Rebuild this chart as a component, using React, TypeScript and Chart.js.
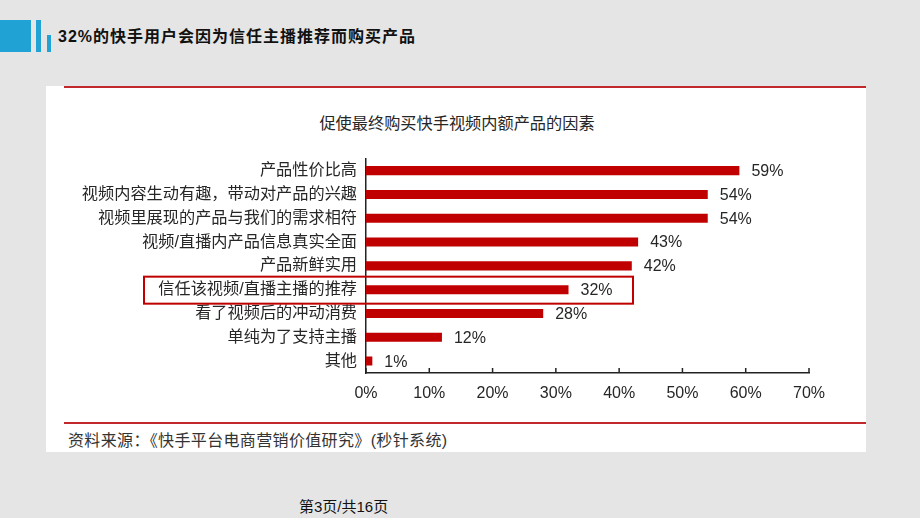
import React, { useEffect, useRef } from 'react';
import { Chart, registerables } from 'chart.js';

Chart.register(...registerables);

const categories = [
  '产品性价比高',
  '视频内容生动有趣，带动对产品的兴趣',
  '视频里展现的产品与我们的需求相符',
  '视频/直播内产品信息真实全面',
  '产品新鲜实用',
  '信任该视频/直播主播的推荐',
  '看了视频后的冲动消费',
  '单纯为了支持主播',
  '其他',
];
const shares = [59, 54, 54, 43, 42, 32, 28, 12, 1];
const highlightIndex = 5;
const axisMax = 70;
const axisStep = 10;

const FONT = "'Liberation Sans', 'Noto Sans CJK SC', sans-serif";
const RED = '#c00000';
const INK = '#262626';

const BarChart: React.FC = () => {
  const canvasRef = useRef<HTMLCanvasElement>(null);
  const chartRef = useRef<Chart | null>(null);

  useEffect(() => {
    if (!canvasRef.current) return;
    const ctx = canvasRef.current.getContext('2d');
    if (!ctx) return;

    // подписи значений, засечки оси и рамка вокруг выделенной строки
    const extras = {
      id: 'extras',
      afterDatasetsDraw(chart: Chart) {
        const c = chart.ctx;
        const meta = chart.getDatasetMeta(0);
        c.save();
        c.font = `16px ${FONT}`;
        c.fillStyle = INK;
        c.textBaseline = 'middle';
        c.textAlign = 'left';
        meta.data.forEach((bar: any, i) => {
          c.fillText(`${shares[i]}%`, bar.x + 12, bar.y + 1);
        });

        const y = chart.scales.y.getPixelForValue(highlightIndex);
        c.strokeStyle = RED;
        c.lineWidth = 2;
        c.strokeRect(98, y - 13, 489, 27);
        c.restore();
      },
      afterDraw(chart: Chart) {
        const c = chart.ctx;
        const xs = chart.scales.x;
        const bottom = chart.chartArea.bottom;
        c.save();
        c.strokeStyle = '#222';
        c.lineWidth = 1.5;
        xs.ticks.forEach((_, i) => {
          const px = xs.getPixelForTick(i);
          c.beginPath();
          c.moveTo(px, bottom);
          c.lineTo(px, bottom - 5);
          c.stroke();
        });
        c.restore();
      },
    };

    chartRef.current?.destroy();
    chartRef.current = new Chart(ctx, {
      type: 'bar',
      data: {
        labels: categories,
        datasets: [{
          data: shares,
          backgroundColor: RED,
          borderWidth: 0,
          barPercentage: 0.4,
          categoryPercentage: 0.95,
        }],
      },
      options: {
        indexAxis: 'y',
        responsive: true,
        maintainAspectRatio: false,
        animation: false,
        layout: { padding: { top: 18, right: 57, left: 0, bottom: 0 } },
        plugins: {
          legend: { display: false },
          tooltip: { enabled: false },
        },
        scales: {
          x: {
            min: 0,
            max: axisMax,
            afterFit: (scale: any) => { scale.height = 37; },
            grid: { display: false, drawTicks: false },
            border: { display: true, color: '#222', width: 1.5 },
            ticks: {
              stepSize: axisStep,
              padding: 11,
              color: INK,
              font: { family: FONT, size: 16 },
              callback: (v) => `${v}%`,
            },
          },
          y: {
            afterFit: (scale: any) => { scale.width = 320; },
            grid: { display: false, drawTicks: false },
            border: { display: true, color: '#222', width: 1.5 },
            ticks: {
              autoSkip: false,
              padding: 9,
              color: INK,
              font: { family: FONT, size: 16.2 },
            },
          },
        },
      },
      plugins: [extras],
    });

    return () => {
      chartRef.current?.destroy();
      chartRef.current = null;
    };
  }, []);

  return (
    <div style={{ position: 'absolute', left: 46, top: 140, width: 820, height: 270 }}>
      <canvas ref={canvasRef} />
    </div>
  );
};

export default function App() {
  return (
    <div
      style={{
        position: 'absolute', left: 0, top: 0, width: 920, height: 518,
        overflow: 'hidden', background: '#e5e5e5', fontFamily: FONT,
      }}
    >
      {/* шапка слайда */}
      <div style={{ position: 'absolute', left: 0, top: 20, width: 31, height: 32, background: '#20a2d4' }} />
      <div style={{ position: 'absolute', left: 36, top: 20, width: 5, height: 32, background: '#20a2d4' }} />
      <div style={{ position: 'absolute', left: 47, top: 35, width: 4, height: 17, background: '#20a2d4' }} />
      <div
        style={{
          position: 'absolute', left: 58, top: 27, lineHeight: '20px', fontSize: 16,
          fontWeight: 'bold', letterSpacing: 1, color: '#111', whiteSpace: 'nowrap',
        }}
      >
        32%的快手用户会因为信任主播推荐而购买产品
      </div>

      {/* белая панель */}
      <div style={{ position: 'absolute', left: 46, top: 86, width: 820, height: 366, background: '#fff' }} />
      <div style={{ position: 'absolute', left: 64, top: 86, width: 802, height: 2, background: '#c0282d' }} />
      <div style={{ position: 'absolute', left: 64, top: 422, width: 802, height: 2, background: '#c0282d' }} />
      <div
        style={{
          position: 'absolute', left: 257, width: 400, top: 113, textAlign: 'center',
          lineHeight: '20px', fontSize: 16.2, color: INK,
        }}
      >
        促使最终购买快手视频内额产品的因素
      </div>
      <BarChart />
      <div
        style={{
          position: 'absolute', left: 68, top: 431, lineHeight: '20px', fontSize: 16,
          letterSpacing: 0.35, color: '#333', whiteSpace: 'nowrap',
        }}
      >
        资料来源：《快手平台电商营销价值研究》(秒针系统)
      </div>

      <div
        style={{
          position: 'absolute', left: 299, top: 497, lineHeight: '20px', fontSize: 15,
          color: '#111', whiteSpace: 'nowrap',
        }}
      >
        第3页/共16页
      </div>
    </div>
  );
}
